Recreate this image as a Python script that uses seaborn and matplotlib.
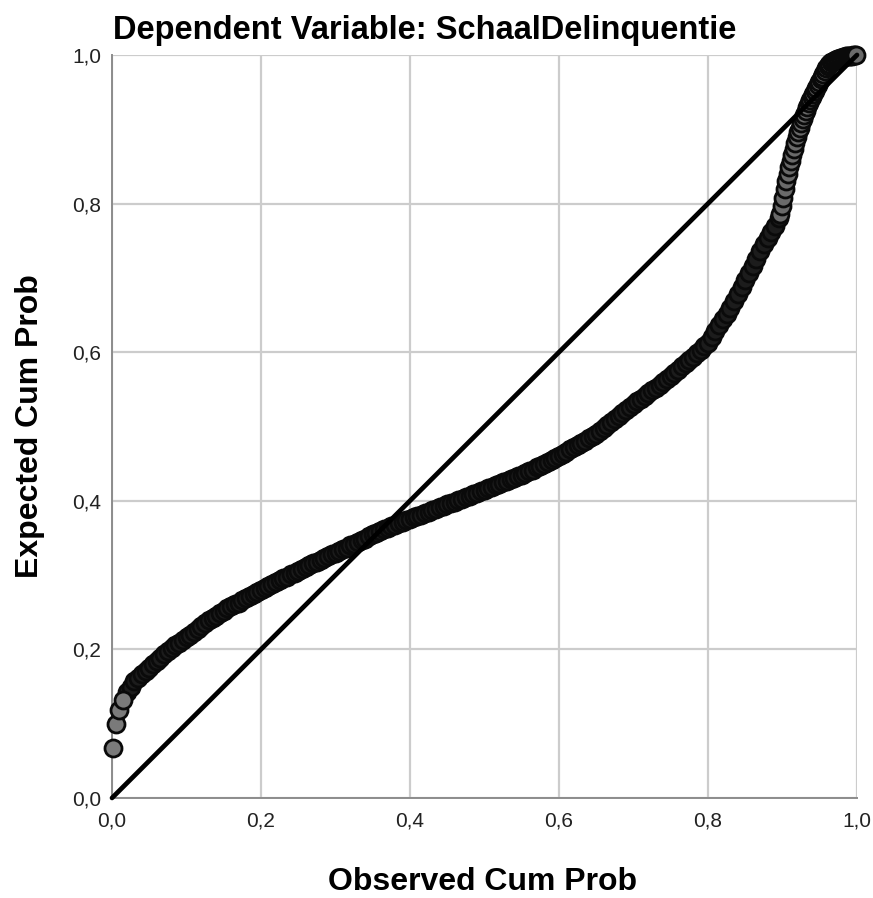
import numpy as np
import pandas as pd
import matplotlib
matplotlib.use("Agg")
import matplotlib.pyplot as plt
import seaborn as sns

# Observed vs expected cumulative probabilities
obs_first = [0.0015, 0.005, 0.010, 0.015]
exp_first = [0.067, 0.100, 0.118, 0.132]

obs_low = [
    0.020, 0.025, 0.030, 0.035, 0.040, 0.045, 0.050,
    0.055, 0.060, 0.065, 0.070, 0.075, 0.080, 0.085, 0.090, 0.095, 0.100,
    0.105, 0.110, 0.115, 0.120, 0.125, 0.130, 0.135, 0.140, 0.145, 0.150,
    0.155, 0.160, 0.165, 0.170, 0.175, 0.180, 0.185, 0.190, 0.195, 0.200,
    0.205, 0.210, 0.215, 0.220, 0.225, 0.230, 0.235, 0.240, 0.245, 0.250,
    0.255, 0.260, 0.265, 0.270, 0.275, 0.280, 0.285, 0.290, 0.295, 0.300,
    0.305, 0.310, 0.315, 0.320, 0.325, 0.330, 0.335, 0.340, 0.345, 0.350,
    0.355, 0.360, 0.365, 0.370, 0.375, 0.380, 0.385, 0.390, 0.395, 0.400,
    0.405, 0.410, 0.415, 0.420, 0.425, 0.430, 0.435, 0.440, 0.445, 0.450,
    0.455, 0.460, 0.465, 0.470, 0.475, 0.480, 0.485, 0.490, 0.495, 0.500,
    0.505, 0.510, 0.515, 0.520, 0.525, 0.530, 0.535, 0.540, 0.545, 0.550,
    0.555, 0.560, 0.565, 0.570, 0.575, 0.580, 0.585, 0.590, 0.595, 0.600,
    0.605, 0.610, 0.615, 0.620, 0.625, 0.630, 0.635, 0.640, 0.645, 0.650,
    0.655, 0.660, 0.665, 0.670, 0.675, 0.680, 0.685, 0.690, 0.695, 0.700,
    0.705, 0.710, 0.715, 0.720, 0.725, 0.730, 0.735, 0.740, 0.745, 0.750,
    0.755, 0.760, 0.765, 0.770, 0.775, 0.780, 0.785, 0.790, 0.795, 0.800,
    0.805, 0.810, 0.815, 0.820, 0.825, 0.830, 0.835, 0.840, 0.845, 0.850,
    0.855, 0.860, 0.865, 0.870, 0.875, 0.880, 0.885, 0.890, 0.895]
exp_low = [
    0.142, 0.150, 0.157, 0.162, 0.167, 0.171, 0.175,
    0.180, 0.184, 0.189, 0.194, 0.198, 0.202, 0.206, 0.209, 0.213, 0.216,
    0.220, 0.224, 0.228, 0.232, 0.235, 0.239, 0.242, 0.245, 0.249, 0.252,
    0.255, 0.258, 0.261, 0.263, 0.266, 0.269, 0.272, 0.275, 0.277, 0.280,
    0.283, 0.285, 0.288, 0.291, 0.293, 0.296, 0.298, 0.301, 0.303, 0.306,
    0.308, 0.311, 0.313, 0.316, 0.318, 0.320, 0.323, 0.325, 0.328, 0.330,
    0.333, 0.335, 0.337, 0.340, 0.342, 0.344, 0.347, 0.349, 0.352, 0.355,
    0.357, 0.359, 0.362, 0.364, 0.366, 0.368, 0.370, 0.372, 0.374, 0.376,
    0.378, 0.380, 0.381, 0.383, 0.385, 0.387, 0.389, 0.391, 0.393, 0.395,
    0.397, 0.399, 0.401, 0.403, 0.405, 0.407, 0.409, 0.411, 0.413, 0.415,
    0.417, 0.419, 0.421, 0.423, 0.425, 0.427, 0.429, 0.431, 0.433, 0.435,
    0.437, 0.440, 0.442, 0.445, 0.447, 0.450, 0.452, 0.455, 0.457, 0.460,
    0.463, 0.466, 0.469, 0.472, 0.475, 0.478, 0.481, 0.484, 0.487, 0.490,
    0.494, 0.498, 0.502, 0.506, 0.510, 0.514, 0.518, 0.522, 0.526, 0.530,
    0.534, 0.537, 0.541, 0.545, 0.549, 0.552, 0.556, 0.560, 0.564, 0.568,
    0.572, 0.576, 0.581, 0.585, 0.590, 0.594, 0.599, 0.603, 0.608, 0.612,
    0.620, 0.628, 0.636, 0.644, 0.652, 0.660, 0.669, 0.678, 0.688, 0.697,
    0.707, 0.716, 0.726, 0.736, 0.745, 0.754, 0.762, 0.770, 0.780]

obs_high = [
    0.897, 0.899, 0.901, 0.903, 0.905, 0.907, 0.909, 0.911, 0.913, 0.915,
    0.917, 0.919, 0.921, 0.923, 0.925, 0.927, 0.929, 0.931, 0.933, 0.935,
    0.937, 0.939, 0.941, 0.943, 0.945, 0.947, 0.949, 0.951, 0.953, 0.955,
    0.957, 0.959, 0.961, 0.963, 0.965, 0.967, 0.969, 0.971, 0.973, 0.975,
    0.977, 0.979, 0.981, 0.983, 0.985, 0.987, 0.989, 0.991, 0.993, 0.995,
    0.997, 0.999]
exp_high = [
    0.786, 0.797, 0.808, 0.819, 0.830, 0.840, 0.849, 0.857, 0.866, 0.874,
    0.882, 0.890, 0.896, 0.902, 0.908, 0.914, 0.919, 0.925, 0.930, 0.935,
    0.939, 0.943, 0.948, 0.952, 0.956, 0.960, 0.963, 0.967, 0.971, 0.975,
    0.978, 0.982, 0.985, 0.988, 0.990, 0.991, 0.992, 0.993, 0.994, 0.995,
    0.996, 0.996, 0.997, 0.997, 0.998, 0.998, 0.999, 0.999, 0.999, 1.000,
    1.000, 1.000]

ref_line = [0.0, 1.0]
tick_values = [0.0, 0.2, 0.4, 0.6, 0.8, 1.0]
tick_labels = ["0,0", "0,2", "0,4", "0,6", "0,8", "1,0"]

sns.set_style("whitegrid")
plt.rcParams["font.family"] = ["Liberation Sans", "DejaVu Sans"]

fig = plt.figure(figsize=(8.73, 8.98), dpi=100)
ax = fig.add_axes([0.1283, 0.1114, 0.8534, 0.8274])

# dense middle part renders almost solid black, sparse ends show grey fill
for xs, ys, fill in [(obs_low, exp_low, "#1c1c1c"),
                     (obs_high, exp_high, "#6a6a6a"),
                     (obs_first, exp_first, "#7a7a7a")]:
    sns.scatterplot(x=xs, y=ys, ax=ax, s=150, color=fill,
                    edgecolor="#0a0a0a", linewidth=2.0,
                    clip_on=False, zorder=3, legend=False)

sns.lineplot(x=ref_line, y=ref_line, ax=ax, color="black", linewidth=3.4,
             zorder=4, clip_on=False)

ax.set_xlim(0, 1)
ax.set_ylim(0, 1)
ax.set_xticks(tick_values)
ax.set_xticklabels(tick_labels)
ax.set_yticks(tick_values)
ax.set_yticklabels(tick_labels)
ax.tick_params(axis="both", labelsize=15, labelcolor="#222222", length=0)
ax.tick_params(axis="x", pad=10)
ax.tick_params(axis="y", pad=8)
ax.grid(True, color="#cccccc", linewidth=1.6)

for side in ["top", "right"]:
    ax.spines[side].set_visible(False)
for side in ["left", "bottom"]:
    ax.spines[side].set_color("#8c8c8c")
    ax.spines[side].set_linewidth(1.4)

ax.set_xlabel("")
ax.set_ylabel("")
fig.text(0.553, 0.018, "Observed Cum Prob", ha="center", va="center",
         fontsize=23, fontweight="bold", color="black")
fig.text(0.034, 0.526, "Expected Cum Prob", ha="center", va="center",
         rotation=90, fontsize=23, fontweight="bold", color="black")
fig.text(0.487, 0.966, "Dependent Variable: SchaalDelinquentie", ha="center",
         va="center", fontsize=23.5, fontweight="bold", color="black")

fig.savefig("out.png", dpi=100)
